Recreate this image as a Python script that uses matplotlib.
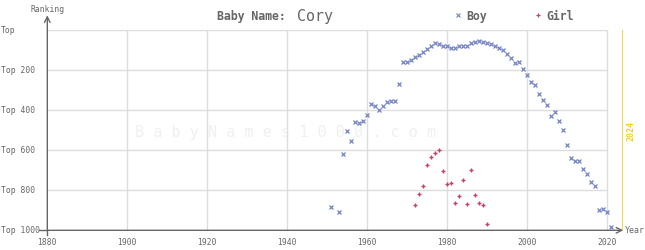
import matplotlib.pyplot as plt

# data
boy_years = list(range(1951, 2022))
boy_years.remove(1952)
boy_ranks = [885, 910, 620, 505, 555, 460, 465, 453, 425, 370,
             380, 400, 380, 358, 353, 353, 268, 160, 160, 150,
             135, 125, 110, 95, 80, 65, 70, 80, 80, 90,
             90, 80, 80, 80, 65, 60, 55, 60, 65, 70,
             80, 90, 100, 120, 140, 165, 160, 195, 225, 260,
             275, 320, 350, 375, 430, 410, 455, 500, 575, 640,
             655, 655, 695, 720, 760, 780, 900, 895, 910, 983]

girl_years = list(range(1972, 1991))
girl_ranks = [875, 820, 780, 675, 635, 615, 600, 705, 770, 765,
              865, 830, 750, 870, 700, 825, 865, 875, 970]

x_ticks = [1880, 1900, 1920, 1940, 1960, 1980, 2000, 2020]
y_ticks = [0, 200, 400, 600, 800, 1000]
y_labels = ['Top', 'Top 200', 'Top 400', 'Top 600', 'Top 800', 'Top 1000']

boy_color = '#7383c2'
girl_color = '#c0406e'
grey = '#666666'
mono = 'DejaVu Sans Mono'

fig = plt.figure(figsize=(6.45, 2.5), dpi=100)
ax = fig.add_axes([47.3 / 645, 19.7 / 250, 576 / 645, 200 / 250])
ax.set_xlim(1880, 2024)
ax.set_ylim(1000, 0)
ax.axis('off')

# grid
ax.hlines(y_ticks[:-1], 1880, 2020, color='#dddddd', lw=1, zorder=1)
ax.vlines(x_ticks[1:], 0, 1000, color='#dddddd', lw=1, zorder=1)

# watermark
ax.text(1939.5, 512, ' '.join('BabyNames1000.com'), fontsize=11, family=mono,
        color='#f0f0f0', ha='center', va='center', zorder=0)

# axes lines with arrows
ax.annotate('', xy=(1880, -75), xytext=(1880, 1000), annotation_clip=False,
            arrowprops=dict(arrowstyle='->', color=grey, lw=1, shrinkA=0, shrinkB=0))
ax.annotate('', xy=(2024, 1000), xytext=(1880, 1000), annotation_clip=False,
            arrowprops=dict(arrowstyle='->', color=grey, lw=1, shrinkA=0, shrinkB=0))
ax.text(1880, -105, 'Ranking', fontsize=5.8, family=mono, color=grey,
        ha='center', va='center')
ax.text(2024.3, 1000, 'Year', fontsize=6, family=mono, color=grey,
        ha='left', va='center')

# tick labels
for v, lab in zip(y_ticks, y_labels):
    ax.text(-0.081, v, lab, fontsize=5.8, family=mono, color=grey,
            ha='left', va='center', transform=ax.get_yaxis_transform())
for v in x_ticks:
    ax.text(v, 1062, str(v), fontsize=5.8, family=mono, color=grey,
            ha='center', va='center')
ax.plot([1878, 1880], [1000, 1000], color=grey, lw=1, clip_on=False)
ax.plot([1880, 1880], [1000, 1025], color=grey, lw=1, clip_on=False)

# current year marker
ax.vlines(2024, 0, 1000, color='#f2d21a', lw=1.2, zorder=2)
ax.text(2026, 505, '2024', fontsize=6, family=mono, color='#f2d21a',
        rotation=90, ha='center', va='center', fontweight='bold')

# data
ax.plot(boy_years, boy_ranks, 'x', color=boy_color, ms=2.6, mew=0.9,
        clip_on=False, zorder=3)
ax.plot(girl_years, girl_ranks, '+', color=girl_color, ms=3.2, mew=1.0,
        clip_on=False, zorder=3)

# title and legend
fig.text(216.7 / 645, 1 - 16.5 / 250, 'Baby Name:', fontsize=8.3, family=mono,
         fontweight='bold', color=grey, ha='left', va='center')
fig.text(296.7 / 645, 1 - 16.5 / 250, 'Cory', fontsize=10.7, family=mono,
         color=grey, ha='left', va='center')
fig.lines.append(plt.Line2D([458.3 / 645], [1 - 15 / 250], marker='x',
                            color=boy_color, ms=2.5, mew=0.8,
                            transform=fig.transFigure))
fig.text(466.7 / 645, 1 - 16.5 / 250, 'Boy', fontsize=8.3, family=mono,
         fontweight='bold', color=grey, ha='left', va='center')
fig.lines.append(plt.Line2D([538.3 / 645], [1 - 15 / 250], marker='+',
                            color=girl_color, ms=3, mew=0.9,
                            transform=fig.transFigure))
fig.text(546.7 / 645, 1 - 16.5 / 250, 'Girl', fontsize=8.3, family=mono,
         fontweight='bold', color=grey, ha='left', va='center')

fig.savefig('out.png', dpi=100)
